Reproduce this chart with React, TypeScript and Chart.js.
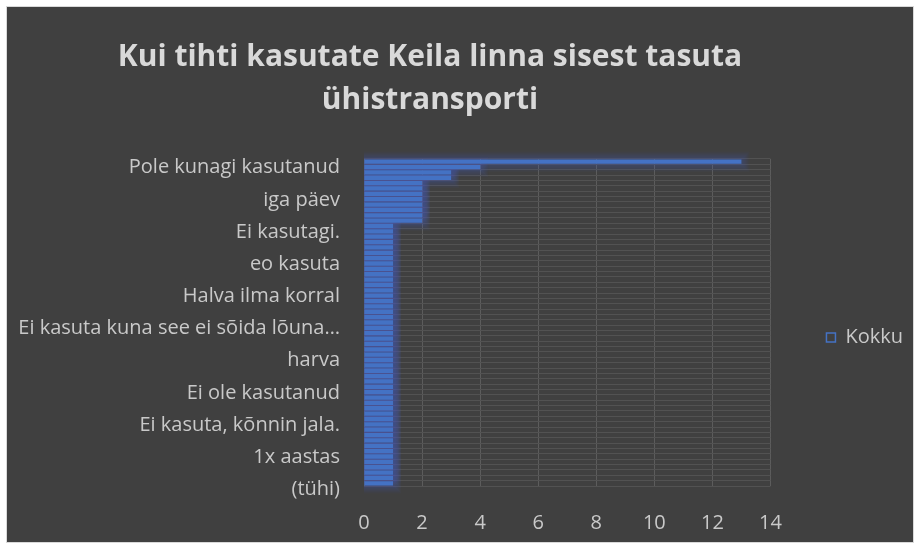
import React, { useEffect, useRef } from "react";
import { Chart, registerables } from "chart.js";

Chart.register(...registerables);

const title = ["Kui tihti kasutate Keila linna sisest tasuta", "ühistransporti"];
const seriesName = "Kokku";

// 61 categories, top to bottom; only every 6th name is readable in the picture
const categories = [
  "Pole kunagi kasutanud", "", "", "", "", "",
  "iga päev", "", "", "", "", "",
  "Ei kasutagi.", "", "", "", "", "",
  "eo kasuta", "", "", "", "", "",
  "Halva ilma korral", "", "", "", "", "",
  "Ei kasuta kuna see ei sõida lõuna…", "", "", "", "", "",
  "harva", "", "", "", "", "",
  "Ei ole kasutanud", "", "", "", "", "",
  "Ei kasuta, kõnnin jala.", "", "", "", "", "",
  "1x aastas", "", "", "", "", "",
  "(tühi)",
];

const values = [
  13, 4, 3, 3, 2, 2, 2, 2, 2, 2,
  2, 2, 1, 1, 1, 1, 1, 1, 1, 1,
  1, 1, 1, 1, 1, 1, 1, 1, 1, 1,
  1, 1, 1, 1, 1, 1, 1, 1, 1, 1,
  1, 1, 1, 1, 1, 1, 1, 1, 1, 1,
  1, 1, 1, 1, 1, 1, 1, 1, 1, 1,
  1,
];

const xMin = 0;
const xMax = 14;
const xStep = 2;

const FONT = "'Open Sans', sans-serif";
const TEXT = "#c9c9c9";
const BAR = "#4472C4";

// soft glow around the bars, built from the bar elements' own geometry
const glowPlugin = {
  id: "glow",
  beforeDatasetsDraw(chart: any) {
    const ctx = chart.ctx;
    const area = chart.chartArea;
    const meta = chart.getDatasetMeta(0);
    ctx.save();
    ctx.beginPath();
    ctx.rect(area.left, 0, chart.width - area.left, chart.height);
    ctx.clip();
    ctx.fillStyle = "rgba(68,114,196,0.04)";
    const steps = 8;
    for (let k = steps; k >= 1; k--) {
      meta.data.forEach((el: any) => {
        const p = el.getProps(["x", "y", "base", "height"], true);
        const l = Math.min(p.x, p.base);
        const r = Math.max(p.x, p.base);
        const t = p.y - p.height / 2;
        ctx.fillRect(l - k, t - k, r - l + 2 * k, p.height + 2 * k);
      });
    }
    ctx.restore();
  },
};

export default function App() {
  const ref = useRef<HTMLCanvasElement | null>(null);

  useEffect(() => {
    if (!ref.current) return;
    const chart = new Chart(ref.current, {
      type: "bar",
      data: {
        labels: categories,
        datasets: [
          {
            label: seriesName,
            data: values,
            backgroundColor: BAR,
            borderWidth: 0,
            categoryPercentage: 0.8,
            barPercentage: 1,
          },
        ],
      },
      options: {
        indexAxis: "y",
        responsive: false,
        animation: false,
        devicePixelRatio: 1,
        layout: { padding: { left: -60, right: 0, top: 0, bottom: 0 } },
        plugins: {
          title: {
            display: true,
            text: title,
            color: "#d9d9d9",
            font: { family: FONT, size: 30, weight: "bold", lineHeight: 1.433 },
            padding: { top: 28.5, bottom: 37.5 },
          },
          legend: {
            display: true,
            position: "right",
            fullSize: false,
            title: { display: true, text: "", font: { size: 10 }, padding: { top: 18, bottom: 0 } },
            labels: {
              color: TEXT,
              font: { family: FONT, size: 20 },
              boxWidth: 9,
              boxHeight: 9,
              padding: 56,
              generateLabels: (chart: any) =>
                chart.data.datasets.map((ds: any, i: number) => ({
                  text: ds.label,
                  fillStyle: "rgba(0,0,0,0)",
                  strokeStyle: BAR,
                  lineWidth: 1.5,
                  fontColor: TEXT,
                  datasetIndex: i,
                  hidden: false,
                })),
            },
          },
          tooltip: { enabled: false },
        },
        scales: {
          x: {
            type: "linear",
            min: xMin,
            max: xMax,
            ticks: {
              stepSize: xStep,
              color: TEXT,
              font: { family: FONT, size: 20 },
              padding: 25,
            },
            grid: { color: "#5c5c5c", lineWidth: 1, drawTicks: false },
            border: { display: false },
            afterFit: (scale: any) => {
              scale.height = 56;
            },
          },
          y: {
            type: "category",
            ticks: {
              autoSkip: false,
              color: TEXT,
              font: { family: FONT, size: 20 },
              padding: 24,
              labelOffset: 6,
            },
            grid: { color: "#525252", lineWidth: 1, drawTicks: false, offset: true },
            border: { display: false },
            afterFit: (scale: any) => {
              scale.width = 417;
            },
          },
        },
      },
      plugins: [glowPlugin],
    });
    return () => chart.destroy();
  }, []);

  return (
    <div
      style={{
        position: "absolute",
        left: 6,
        top: 6,
        width: 906,
        height: 535,
        border: "1px solid #d9d9d9",
        background: "#404040",
      }}
    >
      <canvas ref={ref} width={906} height={535} style={{ display: "block", width: 906, height: 535 }} />
    </div>
  );
}
